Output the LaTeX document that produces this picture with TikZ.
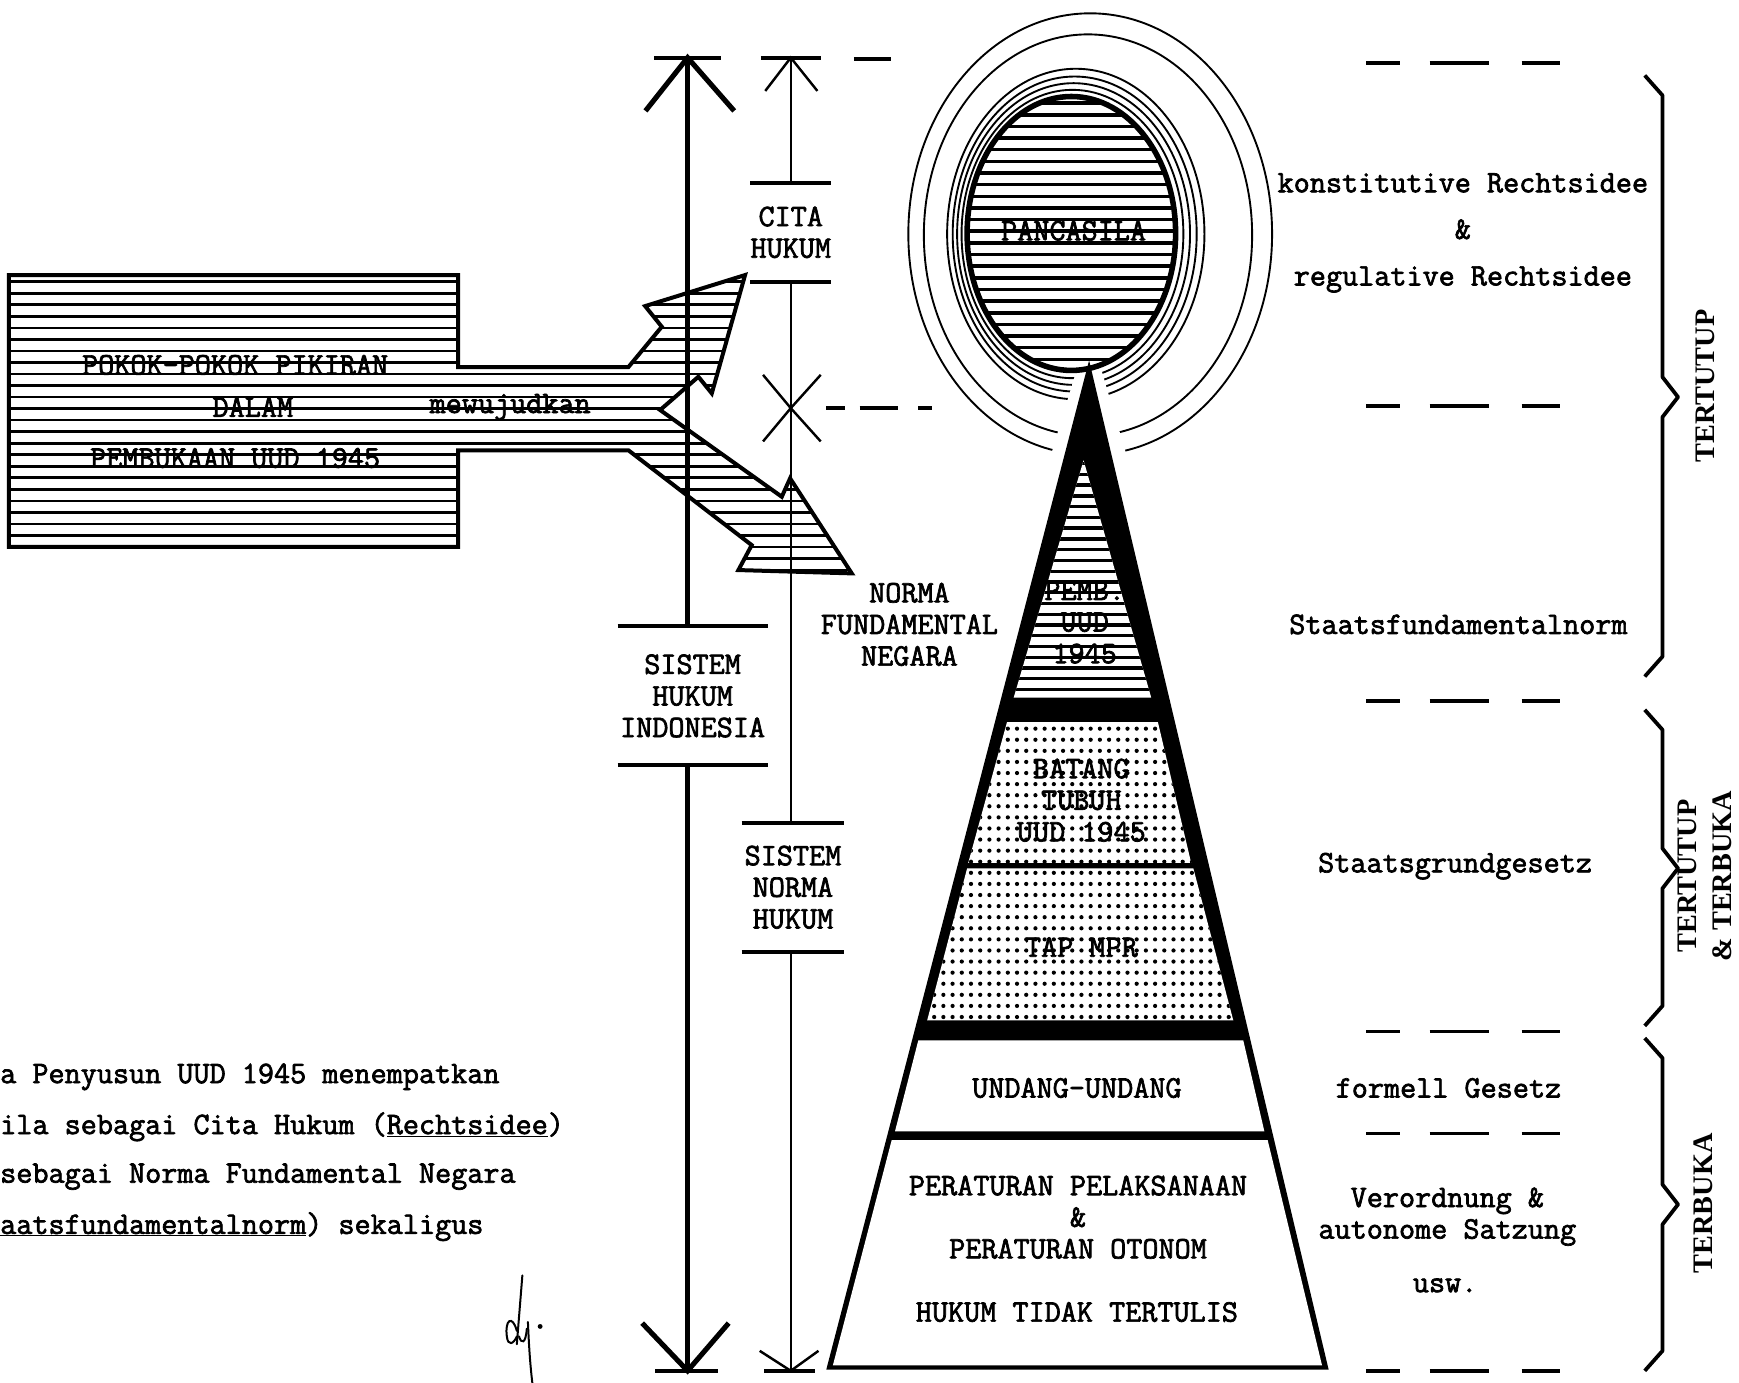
\documentclass[tikz,border=0pt]{standalone}
\usepackage{fontspec}
\newfontfamily\twfont[FakeBold=2.2]{Latin Modern Mono}
\newfontfamily\tlfont{Liberation Serif}
\tikzset{
  tw/.style={font=\twfont\fontsize{28.2}{28.5}\selectfont, inner sep=0pt, align=center},
  side/.style={font=\tlfont\bfseries\fontsize{25.5}{32}\selectfont, inner sep=0pt, align=center, rotate=90},
  bar/.style={line width=3.6pt},
  mainaxis/.style={line width=4.6pt},
  subaxis/.style={line width=2.2pt},
  ring/.style={line width=1.7pt},
  hatchline/.style={line width=2.4pt},
  sepdash/.style={line width=3.4pt, dash pattern=on 30pt off 27pt on 54pt off 29pt on 35pt off 200pt},
  brace/.style={line width=3.4pt, line join=round},
  sig/.style={line width=1.8pt, line cap=round}
}
\begin{document}
\begin{tikzpicture}[x=1pt,y=-1pt]
\useasboundingbox (0,0) rectangle (1568,1247);
\fill[white] (0,0) rectangle (1568,1247);

% rings round the oval
\foreach \cx/\cy/\rx/\ry in {967/211/100/130, 968/211/105/136, 969/211/110/142,
  970/211/116/149, 981/212/148/181, 983/211/164/199}
  \draw[ring] (\cx,\cy) ellipse [x radius=\rx, y radius=\ry];
\fill[white] (982,296) -- (1028,452) -- (935,452) -- cycle;

% Pancasila oval
\fill[white] (966,210.5) ellipse [x radius=94, y radius=123.5];
\begin{scope}
\clip (966,210.5) ellipse [x radius=94, y radius=123.5];
\foreach \yy in {93,103.5,...,335}
  \draw[line width=3.2pt] (860,\yy) -- (1075,\yy);
\end{scope}
\draw[line width=5pt] (966,210.5) ellipse [x radius=94, y radius=123.5];

% pyramid
\fill (982,325) -- (1198,1235) -- (745,1235) -- cycle;
\fill[white] (977,415) -- (1038,629) -- (914,629) -- cycle;
\begin{scope}
\clip (977,415) -- (1038,629) -- (914,629) -- cycle;
\foreach \yy in {418,427.7,...,630}
  \draw[line width=3pt] (900,\yy) -- (1060,\yy);
\end{scope}
\fill[white] (908,651) -- (1044,651) -- (1074,778) -- (873,778) -- cycle;
\fill[white] (872,783) -- (1076,783) -- (1112,920) -- (836,920) -- cycle;
\begin{scope}
\clip (908,651) -- (1044,651) -- (1074,778) -- (873,778) -- cycle
      (872,783) -- (1076,783) -- (1112,920) -- (836,920) -- cycle;
\foreach \yy in {657,667,...,917}
  \foreach \xx in {834,842.3,...,1114}
    \fill (\xx,\yy) circle (1.9);
\end{scope}
\fill[white] (828,938) -- (1121,938) -- (1140,1020) -- (807,1020) -- cycle;
\fill[white] (804,1028) -- (1143,1028) -- (1192,1231) -- (751,1231) -- cycle;

% hatched box with the split arrow
\fill[white] (8,248) -- (413,248) -- (413,331) -- (566.6,331) -- (596.7,294.6)
  -- (581.7,276) -- (671.8,248) -- (641.8,354.7) -- (629.7,339.7) -- (595.2,369.7)
  -- (704.9,447.9) -- (712.4,431.3) -- (768,517) -- (665.8,514) -- (677.8,491.5)
  -- (566.6,406) -- (413,406) -- (413,493) -- (8,493) -- cycle;
\begin{scope}
\clip (8,248) -- (413,248) -- (413,331) -- (566.6,331) -- (596.7,294.6)
  -- (581.7,276) -- (671.8,248) -- (641.8,354.7) -- (629.7,339.7) -- (595.2,369.7)
  -- (704.9,447.9) -- (712.4,431.3) -- (768,517) -- (665.8,514) -- (677.8,491.5)
  -- (566.6,406) -- (413,406) -- (413,493) -- (8,493) -- cycle;
\foreach \yy in {254,264.4,...,520}
  \draw[hatchline] (0,\yy) -- (780,\yy);
\end{scope}
\draw[line width=3.6pt, line join=miter] (8,248) -- (413,248) -- (413,331) -- (566.6,331)
  -- (596.7,294.6) -- (581.7,276) -- (671.8,248) -- (641.8,354.7) -- (629.7,339.7)
  -- (595.2,369.7) -- (704.9,447.9) -- (712.4,431.3) -- (768,517) -- (665.8,514)
  -- (677.8,491.5) -- (566.6,406) -- (413,406) -- (413,493) -- (8,493) -- cycle;

\node[tw] (pokok) at (212,329) {POKOK-POKOK PIKIRAN};
\node[tw] (dalam) at (228,367) {DALAM};
\node[tw] (pemb) at (212,413) {PEMBUKAAN UUD 1945};
\node[tw] (mewujud) at (460,367) {mewujudkan};

% the two scales
\coordinate (hiTop) at (620,52);
\coordinate (hiBot) at (620,1236);
\coordinate (loTop) at (713,52);
\coordinate (loBot) at (713,1236);
\coordinate (xc) at (713,368);

\node[tw, minimum width=135, minimum height=125] (shi) at (624.5,627.5) {SISTEM\\HUKUM\\INDONESIA};
\node[tw, minimum width=64, minimum height=89] (cita) at (713,209.5) {CITA\\HUKUM};
\node[tw, minimum width=92, minimum height=116] (snh) at (715,800) {SISTEM\\NORMA\\HUKUM};

\draw[mainaxis] (hiTop) -- (hiTop |- shi.north);
\draw[mainaxis] (hiTop |- shi.south) -- (hiBot);
\draw[bar] (shi.north west) -- (shi.north east);
\draw[bar] (shi.south west) -- (shi.south east);
\draw[bar] (590,52) -- (650,52);
\draw[mainaxis] (582,100) -- (hiTop) -- (662,100);
\draw[bar] (591,1236) -- (647,1236);
\draw[mainaxis] (579,1193) -- (hiBot) -- (657,1193);

\draw[subaxis] (loTop) -- (loTop |- cita.north);
\draw[subaxis] (loTop |- cita.south) -- (xc);
\draw[subaxis] (xc) -- (loTop |- snh.north);
\draw[subaxis] (loTop |- snh.south) -- (loBot);
\draw[bar] (cita.north west) -- (cita.north east);
\draw[bar] (cita.south west) -- (cita.south east);
\draw[bar] (snh.north west) -- (snh.north east);
\draw[bar] (snh.south west) -- (snh.south east);
\draw[bar] (686,52) -- (740,52);
\draw[subaxis] (690,82) -- (loTop) -- (737,82);
\draw[subaxis] (688,338) -- (xc) -- (740,338);
\draw[subaxis] (688,398) -- (xc) -- (740,398);
\draw[bar] (689,1236) -- (735,1236);
\draw[subaxis] (685,1218) -- (loBot) -- (738,1218);

% dashed level marks
\draw[bar] (770,53) -- (803,53);
\draw[line width=3.4pt, dash pattern=on 17pt off 13pt on 35pt off 18pt on 12pt off 100pt] (745,368) -- (840,368);
\foreach \yy in {57,366,632,930,1022,1236}
  \draw[sepdash] (1232,\yy) -- (1407,\yy);

% braces
\foreach \ta/\tb/\tc in {68/358/610, 640/783/925, 936/1086/1236}
  \draw[brace] (1483,\ta) -- (1499,\ta+18) -- (1499,\tb-18) -- (1513,\tb)
    -- (1499,\tb+18) -- (1499,\tc-18) -- (1483,\tc);
\node[side] (tt1) at (1538,348) {TERTUTUP};
\node[side] (tt2) at (1537,790) {TERTUTUP\\\& TERBUKA};
\node[side] (tb) at (1536,1085) {TERBUKA};

% labels
\node[tw] (pancasila) at (968,208) {PANCASILA};
\node[tw] (pembuud) at (978,561) {PEMB.\\UUD\\1945};
\node[tw] (batang) at (975,721.5) {BATANG\\TUBUH\\UUD 1945};
\node[tw] (tap) at (975,854) {TAP MPR};
\node[tw] (uu) at (971,981) {UNDANG-UNDANG};
\node[tw] (perat) at (972,1097.5) {PERATURAN PELAKSANAAN\\\&\\PERATURAN OTONOM};
\node[tw] (htt) at (971,1183) {HUKUM TIDAK TERTULIS};
\node[tw] (nfn) at (820,563) {NORMA\\FUNDAMENTAL\\NEGARA};

\node[tw] (rechts) at (1319,210) {konstitutive Rechtsidee\\[13.5pt]\&\\[13.5pt]regulative Rechtsidee};
\node[tw] (sfn) at (1315,563) {Staatsfundamentalnorm};
\node[tw] (sgg) at (1312,781) {Staatsgrundgesetz};
\node[tw] (fg) at (1306,981) {formell Gesetz};
\node[tw] (vo) at (1305,1097) {Verordnung \&\\autonome Satzung};
\node[tw] (usw) at (1303,1159) {usw.};

% note at the bottom left
\node[tw, anchor=west] (p1) at (0,971) {a Penyusun UUD 1945 menempatkan};
\node[tw, anchor=west] (p2) at (0,1016) {ila sebagai Cita Hukum (\underline{Rechtsidee})};
\node[tw, anchor=west] (p3) at (0,1061) {sebagai Norma Fundamental Negara};
\node[tw, anchor=west] (p4) at (0,1106) {\underline{aatsfundamentalnorm}) sekaligus};

% paraf
\draw[sig] (471,1150) -- (466,1212);
\draw[sig] (466,1200) .. controls (462,1185) and (455,1190) .. (457,1205)
  .. controls (458,1214) and (463,1212) .. (466,1205);
\draw[sig] (468,1205) .. controls (470,1212) and (474,1212) .. (475,1198);
\draw[sig] (476,1192) .. controls (477,1215) and (478,1230) .. (480,1247);
\fill (487,1196) circle (2.2);
\end{tikzpicture}
\end{document}
